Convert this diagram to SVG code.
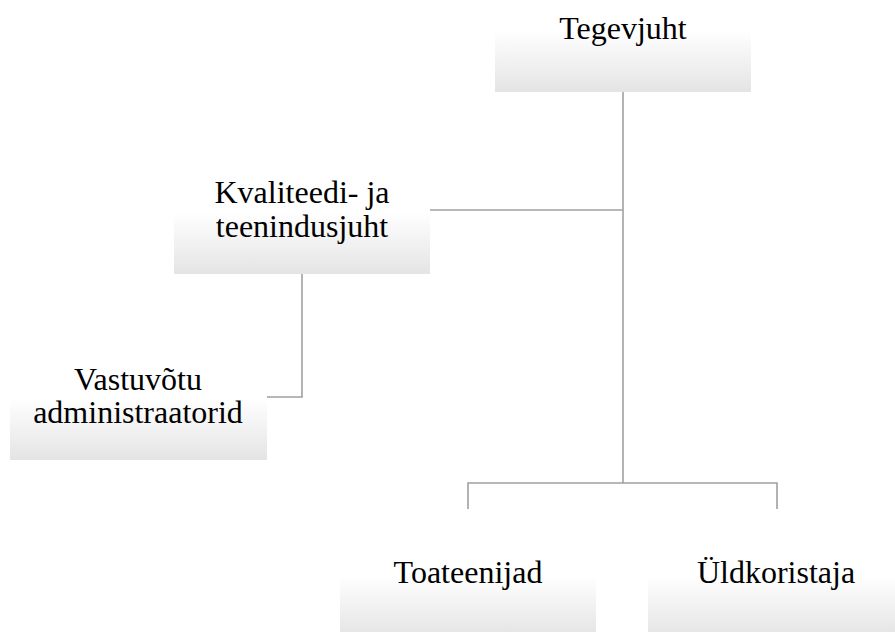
<svg xmlns="http://www.w3.org/2000/svg" width="895" height="632" viewBox="0 0 895 632">
<defs>
<linearGradient id="g" x1="0" y1="0" x2="0" y2="1">
<stop offset="0" stop-color="#ffffff"/>
<stop offset="0.33" stop-color="#ffffff"/>
<stop offset="1" stop-color="#e4e4e4"/>
</linearGradient>
</defs>
<style>
.box{fill:url(#g);stroke:none}
.t{font-family:"Liberation Serif","Times New Roman",serif;font-size:32px;fill:#000;text-anchor:middle}
.c{fill:none;stroke:#a0a0a0;stroke-width:1.6}
</style>
<rect width="895" height="632" fill="#ffffff"/>
<g id="connectors">
<path class="c" d="M623,92 V483"/>
<path class="c" d="M430,210 H623"/>
<path class="c" d="M302,274 V397 H267"/>
<path class="c" d="M468,509 V483 H777 V509"/>
</g>
<g id="tegevjuht">
<rect class="box" x="495" y="0" width="256" height="92"/>
<text class="t" x="623" y="39">Tegevjuht</text>
</g>
<g id="kvaliteedi">
<rect class="box" x="174" y="182" width="256" height="92"/>
<text class="t" x="302" y="203">Kvaliteedi- ja</text>
<text class="t" x="302" y="237">teenindusjuht</text>
</g>
<g id="vastuvotu">
<rect class="box" x="10" y="368" width="257" height="92"/>
<text class="t" x="138" y="390">Vastuvõtu</text>
<text class="t" x="138" y="423">administraatorid</text>
</g>
<g id="toateenijad">
<rect class="box" x="340" y="545" width="256" height="92"/>
<text class="t" x="468" y="583">Toateenijad</text>
</g>
<g id="uldkoristaja">
<rect class="box" x="648" y="545" width="256" height="92"/>
<text class="t" x="776" y="583">Üldkoristaja</text>
</g>
</svg>
